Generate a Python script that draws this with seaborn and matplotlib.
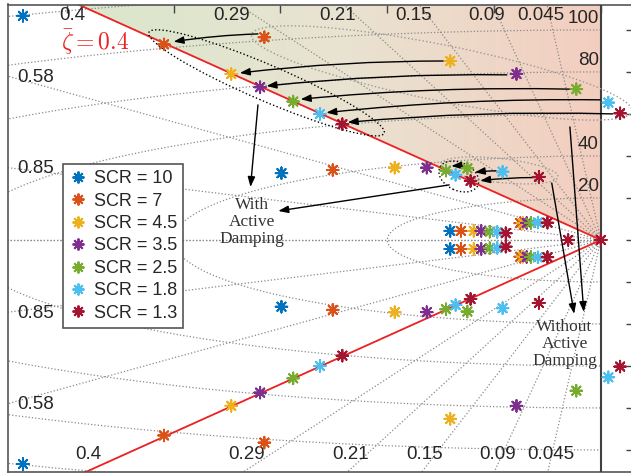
import numpy as np
import pandas as pd
import matplotlib
matplotlib.use("Agg")
import matplotlib.pyplot as plt
import seaborn as sns
from matplotlib.lines import Line2D
from matplotlib.patches import Ellipse, Polygon
from matplotlib.colors import LinearSegmentedColormap
from matplotlib.transforms import ScaledTranslation

# SCR cases (MATLAB default colour order)
SCR = ["10", "7", "4.5", "3.5", "2.5", "1.8", "1.3"]
SCR_COLORS = ["#0072BD", "#D95319", "#EDB120", "#7E2F8E", "#77AC30", "#4DBEEE", "#A2142F"]

nan = np.nan
# Poles in the upper half plane (conjugates get mirrored), one entry per SCR
# dominant pair, without active damping
dom_wo_re = [-54.1, -31.5, -14.1, -7.9, -2.3, 0.7, 1.8]
dom_wo_im = [106.7, 96.5, 85.2, 79.0, 71.8, 65.4, 60.3]
# dominant pair, with active damping
dom_ad_re = [nan, -40.9, -34.6, -31.9, -28.8, -26.3, -24.2]
dom_ad_im = [nan, 93.1, 79.0, 72.7, 65.9, 60.0, 55.1]
# second pair
sec_wo_re = [-29.9, -25.1, -19.3, -16.3, -12.5, -9.2, -5.8]
sec_wo_im = [31.8, 33.3, 34.4, 34.4, 34.1, 32.5, 30.0]
sec_ad_re = [nan, nan, nan, nan, -14.5, -13.6, -12.2]
sec_ad_im = [nan, nan, nan, nan, 33.0, 31.0, 28.1]
# low frequency pairs
low1_re = [-14.1, -13.1, -11.9, -11.2, -10.4, -9.7, -8.9]
low1_im = [4.3, 4.3, 4.3, 4.3, 3.9, 3.8, 3.2]
low2_re = [nan, -7.55, -7.3, -6.95, -6.55, -5.9, -5.0]
low2_im = [nan, 8.0, 8.0, 8.1, 8.1, 8.3, 8.2]
# real poles (SCR = 1.3)
real_re = [-3.06, 0.0]

# s-plane grid
ZETA_TOP = [0.4, 0.29, 0.21, 0.15, 0.09, 0.045]
ZETA_LEFT = [0.58, 0.85]
WN = [20, 40, 60, 80, 100, 120]
WN_LABELS = [20, 40, 80, 100]
ZETA_BAR = 0.4

XLIM = (-55.5, 3.1)
YLIM = (-110.5, 112.1)

# annotation arrows (start -> tip), Re/Im units
ARROWS_AD = [((-32.1, 98.1), (-40.0, 94.4)),
             ((-14.6, 85.2), (-33.8, 79.5)),
             ((-8.8, 78.6), (-31.3, 73.3)),
             ((-2.9, 71.8), (-28.1, 67.0)),
             ((-0.1, 66.7), (-25.7, 60.6)),
             ((1.1, 60.0), (-23.7, 56.0)),
             ((-12.9, 35.2), (-14.0, 35.2)),
             ((-9.8, 32.9), (-11.8, 32.2)),
             ((-6.3, 29.7), (-11.3, 28.2))]
ARROWS_TEXT = [((-32.1, 64.3), (-32.8, 25.2)),
               ((-14.2, 26.2), (-30.2, 13.8)),
               ((-2.9, 53.8), (-1.6, -34.3)),
               ((-4.6, 27.1), (-2.5, -35.2))]
# grouping ellipses: centre (Re, Im), half axes and angle in pixels/degrees
ELLIPSES = [((-31.3, 74.8), 128, 18, -23.2, "k"),
            ((-13.3, 30.2), 21, 14, -25.0, "k"),
            ((-14.9, 79.5), 194, 28, -11.4, "#9a9a9a"),
            ((-9.5, 33.1), 59, 12, -6.2, "#9a9a9a")]

# long table of all poles
rows = []
for re_l, im_l in [(dom_wo_re, dom_wo_im), (dom_ad_re, dom_ad_im),
                   (sec_wo_re, sec_wo_im), (sec_ad_re, sec_ad_im),
                   (low1_re, low1_im), (low2_re, low2_im)]:
    for scr, re, im in zip(SCR, re_l, im_l):
        if np.isnan(re):
            continue
        rows.append((re, im, scr))
        rows.append((re, -im, scr))
for re in real_re:
    rows.append((re, 0.0, "1.3"))
poles = pd.DataFrame(rows, columns=["re", "im", "scr"])

sns.set_style("white")
plt.rcParams["font.family"] = ["Liberation Sans", "DejaVu Sans"]
plt.rcParams["mathtext.fontset"] = "cm"

fig = plt.figure(figsize=(6.31, 4.74), dpi=100)
ax = fig.add_axes([8 / 631, 2 / 474, 626 / 631, 467.5 / 474])

# shaded region above the zeta = 0.4 line
k = np.sqrt(1 - ZETA_BAR ** 2) / ZETA_BAR
re_top = -YLIM[1] / k
bg = LinearSegmentedColormap.from_list("bg", ["#dae7cc", "#e9e3d1", "#f3cebf"])
img = ax.imshow(np.linspace(0, 1, 256).reshape(1, -1), extent=(re_top, 0, 0, YLIM[1]),
                cmap=bg, aspect="auto", origin="lower", zorder=0, interpolation="bilinear")
clip = Polygon([(0, 0), (re_top, YLIM[1]), (0, YLIM[1])], closed=True,
               facecolor="none", edgecolor="none", transform=ax.transData)
ax.add_patch(clip)
img.set_clip_path(clip)

# damping lines and natural frequency curves
R = 400
grid_kw = dict(color="#8a8a8a", ls=":", lw=0.9, zorder=1)
for z in ZETA_TOP + ZETA_LEFT + [1.0]:
    w = np.sqrt(1 - z ** 2)
    ax.plot([0, -R * z], [0, R * w], **grid_kw)
    ax.plot([0, -R * z], [0, -R * w], **grid_kw)
th = np.linspace(np.pi / 2, 3 * np.pi / 2, 400)
for wn in WN:
    ax.plot(wn * np.cos(th), wn * np.sin(th), **grid_kw)

# zeta_bar boundary
wb = np.sqrt(1 - ZETA_BAR ** 2)
ax.plot([0, -R * ZETA_BAR], [0, R * wb], color="#ee2224", lw=1.3, zorder=2)
ax.plot([0, -R * ZETA_BAR], [0, -R * wb], color="#ee2224", lw=1.3, zorder=2)
ax.axvline(0, color="#404040", lw=1.5, zorder=3)

# grid labels
for z in ZETA_TOP:
    x_end = -YLIM[1] * z / np.sqrt(1 - z ** 2)
    ax.annotate(f"{z:g}", (x_end, YLIM[1]), xytext=(-6, -2), textcoords="offset pixels",
                ha="center", va="top", fontsize=13.5, zorder=4)
    x_end = YLIM[0] * z / np.sqrt(1 - z ** 2)
    ax.annotate(f"{z:g}", (x_end, YLIM[0]), xytext=(3, 9), textcoords="offset pixels",
                ha="center", va="bottom", fontsize=13.5, zorder=4)
for z in ZETA_LEFT:
    y_end = -XLIM[0] * np.sqrt(1 - z ** 2) / z
    for sgn in (1, -1):
        ax.annotate(f"{z:g}", (XLIM[0], sgn * y_end), xytext=(9, -1), textcoords="offset pixels",
                    ha="left", va="center", fontsize=13.5, zorder=4)
for wn in WN_LABELS:
    ax.annotate(f"{wn}", (0, wn), xytext=(-2, 3), textcoords="offset pixels",
                ha="right", va="bottom", fontsize=13.5, zorder=4)

# grouping ellipses
for (cx, cy), a, b, ang, col in ELLIPSES:
    tr = fig.dpi_scale_trans + ScaledTranslation(cx, cy, ax.transData)
    ax.add_patch(Ellipse((0, 0), 2 * a / 100, 2 * b / 100, angle=ang, transform=tr,
                         fill=False, ls=":", lw=1.0, edgecolor=col, zorder=4))

# arrows
head = "-|>,head_length=0.6,head_width=0.22"
for start, tip in ARROWS_AD:
    ax.annotate("", xy=tip, xytext=start,
                arrowprops=dict(arrowstyle=head, color="k", lw=1.0, mutation_scale=10,
                                shrinkA=0, shrinkB=0, connectionstyle="arc3,rad=0.03"),
                zorder=5)
for start, tip in ARROWS_TEXT:
    ax.annotate("", xy=tip, xytext=start,
                arrowprops=dict(arrowstyle=head, color="k", lw=1.0, mutation_scale=10,
                                shrinkA=0, shrinkB=0), zorder=5)

# poles
sns.scatterplot(data=poles, x="re", y="im", hue="scr", hue_order=SCR, palette=SCR_COLORS,
                marker=(8, 2, 0), s=70, linewidth=1.4, legend=False, ax=ax, zorder=6,
                clip_on=False)

ax.text(-47.3, 94.3, r"$\bar{\zeta} = 0.4$", color="#ee2224", fontsize=17,
        ha="center", va="center", zorder=6)
ax.text(-32.7, 8.6, "With\nActive\nDamping", family="Liberation Serif", fontsize=12.5,
        color="#333333", ha="center", va="center", linespacing=1.1, zorder=6)
ax.text(-3.4, -49.5, "Without\nActive\nDamping", family="Liberation Serif", fontsize=12.5,
        color="#333333", ha="center", va="center", linespacing=1.1, zorder=6)

handles = [Line2D([], [], ls="none", marker=(8, 2, 0), markersize=8.5, mew=1.4, color=c)
           for c in SCR_COLORS]
leg = ax.legend(handles, [f"SCR = {s}" for s in SCR], loc="upper left",
                bbox_to_anchor=(0.088, 0.659), borderaxespad=0, fontsize=13,
                handlelength=0.9, handletextpad=0.45, labelspacing=0.3, borderpad=0.35,
                fancybox=False, framealpha=1, edgecolor="#555555")
leg.get_frame().set_linewidth(1.2)
leg.set_zorder(7)

ax.set_xlim(XLIM)
ax.set_ylim(YLIM)
ax.set_xticks(np.arange(-50, 1, 10))
ax.set_yticks(np.arange(-100, 101, 20))
ax.tick_params(direction="in", length=6, width=1, top=True, right=True,
               labelbottom=False, labelleft=False, colors="#444444")
ax.set_xlabel("")
ax.set_ylabel("")
for s in ax.spines.values():
    s.set_color("#555555")
    s.set_linewidth(1.2)

fig.savefig("out.png", dpi=100)
